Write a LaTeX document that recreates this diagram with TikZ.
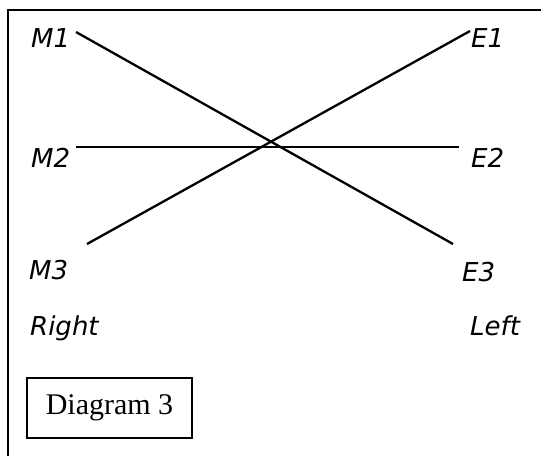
\documentclass[tikz,border=0pt]{standalone}
\usepackage{fontspec}
\setmainfont{Liberation Serif}
\newfontfamily\handfont{DejaVu Sans}
\begin{document}
\begin{tikzpicture}[x=1pt,y=-1pt,
  hand/.style={font=\handfont\itshape\fontsize{26}{26}\selectfont, inner sep=0pt, anchor=base west},
  link/.style={line width=2.3pt},
  frame/.style={line width=1.6pt}]
\useasboundingbox (0,0) rectangle (541,456);
\draw[frame] (8,456) -- (8,10) -- (541,10);
\node[hand] (M1) at (31,47) {M1};
\node[hand] (E1) at (471,47) {E1};
\node[hand] (M2) at (31,167) {M2};
\node[hand] (E2) at (471,167) {E2};
\node[hand] (M3) at (29,279) {M3};
\node[hand] (E3) at (462,281) {E3};
\node[hand] (R) at (30,335) {Right};
\node[hand] (L) at (470,335) {Left};
\coordinate (a1) at (76,32);
\coordinate (a2) at (453,244);
\coordinate (b1) at (470,31);
\coordinate (b2) at (87,244);
\coordinate (c1) at (76,147);
\coordinate (c2) at (459,147);
\draw[link] (a1) -- (a2);
\draw[link] (b1) -- (b2);
\draw[line width=1.8pt] (c1) -- (c2);
\node[draw, line width=1.4pt, minimum width=165pt, minimum height=60pt, inner sep=0pt,
  font=\fontsize{30}{30}\selectfont] (D) at (109.5,408) {Diagram 3};
\end{tikzpicture}
\end{document}
